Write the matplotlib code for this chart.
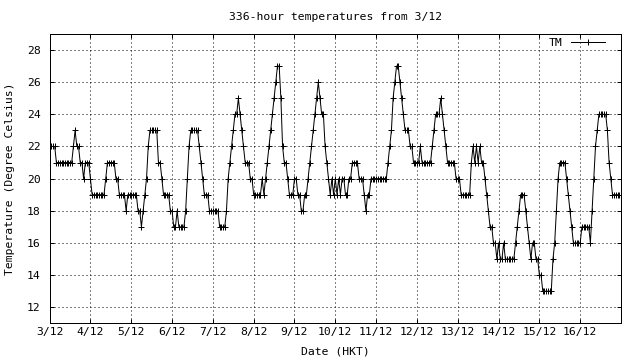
import numpy as np
import matplotlib
matplotlib.use("Agg")
import matplotlib.pyplot as plt

# hourly temperatures (deg C) from 3/12 00:00, 336 hours
day01 = [22,22,22,22,21,21,21,21,21,21,21,21,21,21,22,23,22,22,21,21,20,21,21,21]
day02 = [20,19,19,19,19,19,19,19,19,20,21,21,21,21,21,20,20,19,19,19,19,18,19,19]
day03 = [19,19,19,19,18,18,17,18,19,20,22,23,23,23,23,23,21,21,20,19,19,19,19,18]
day04 = [18,17,17,18,17,17,17,17,18,20,22,23,23,23,23,23,22,21,20,19,19,19,18,18]
day05 = [18,18,18,18,17,17,17,17,18,20,21,22,23,24,24,25,24,23,22,21,21,21,20,20]
day06 = [19,19,19,19,19,20,19,20,21,22,23,24,25,26,27,27,25,22,21,21,20,19,19,19]
day07 = [20,20,19,19,18,18,19,19,20,21,22,23,24,25,26,25,24,24,22,21,20,19,20,19]
day08 = [20,19,20,19,20,20,19,19,20,20,21,21,21,21,20,20,20,19,18,19,19,20,20,20]
day09 = [20,20,20,20,20,20,20,21,22,23,25,26,27,27,26,25,24,23,23,23,22,22,21,21]
day10 = [21,21,22,21,21,21,21,21,21,22,23,24,24,24,25,24,23,22,21,21,21,21,21,20]
day11 = [20,20,19,19,19,19,19,19,21,22,21,22,21,22,21,21,20,19,18,17,17,16,16,15]
day12 = [16,15,15,16,15,15,15,15,15,15,16,17,18,19,19,19,18,17,16,15,16,16,15,15]
day13 = [14,14,13,13,13,13,13,13,15,16,18,20,21,21,21,21,20,19,18,17,16,16,16,16]
day14 = [16,17,17,17,17,17,16,18,20,22,23,24,24,24,24,24,23,21,20,19,19,19,19,19]

temps = (day01 + day02 + day03 + day04 + day05 + day06 + day07 +
         day08 + day09 + day10 + day11 + day12 + day13 + day14)
hours = np.arange(len(temps))

day_labels = ['3/12', '4/12', '5/12', '6/12', '7/12', '8/12', '9/12',
              '10/12', '11/12', '12/12', '13/12', '14/12', '15/12', '16/12']
y_ticks = [12, 14, 16, 18, 20, 22, 24, 26, 28]

title = '336-hour temperatures from 3/12'
xlabel = 'Date (HKT)'
ylabel = 'Temperature (Degree Celsius)'
series_name = 'TM'

FONT = 'DejaVu Sans Mono'
FS = 8.2
PX = 72.0 / 100.0  # points per pixel

plt.rcParams['font.family'] = [FONT]
plt.rcParams['lines.scale_dashes'] = False

W, H = 640, 360
fig = plt.figure(figsize=(6.4, 3.6), dpi=100)
left, right, top, bottom = 49.6, 621.0, 33.9, 323.3
ax = fig.add_axes([left / W, 1 - bottom / H, (right - left) / W, (bottom - top) / H])

ax.plot(hours, temps, color='black', lw=1 * PX, marker='+', ms=6 * PX,
        mew=1 * PX, label=series_name, clip_on=True)

ax.set_xlim(0, 336)
ax.set_ylim(11, 29)
ax.set_xticks(np.arange(len(day_labels)) * 24)
ax.set_xticklabels(day_labels)
ax.set_yticks(y_ticks)
ax.set_yticklabels([str(v) for v in y_ticks])

ax.tick_params(direction='in', length=4 * PX, width=1 * PX, top=True, right=True,
               labelsize=FS, colors='black')
ax.tick_params(axis='x', pad=3.5 * PX)
ax.tick_params(axis='y', pad=9 * PX)
for s in ax.spines.values():
    s.set_linewidth(1 * PX)
    s.set_color('black')

ax.grid(True, color='black', lw=1 * PX, linestyle=(0, (1 * PX, 3 * PX)))
ax.set_axisbelow(True)

fig.text(335.3 / W, 1 - 17 / H, title, ha='center', va='center', fontsize=FS)
fig.text(335.3 / W, 1 - 352 / H, xlabel, ha='center', va='center', fontsize=FS)
fig.text(10 / W, 1 - 178.6 / H, ylabel, ha='center', va='center', rotation=90, fontsize=FS)

leg = ax.legend(loc='center right', bbox_to_anchor=((604.5 - left) / (right - left),
                                                     (bottom - 42.7) / (bottom - top)),
                frameon=False, markerfirst=False, numpoints=1, handlelength=2.9,
                handletextpad=0.8, borderpad=0, borderaxespad=0, fontsize=FS)

fig.savefig('out.png', dpi=100)
